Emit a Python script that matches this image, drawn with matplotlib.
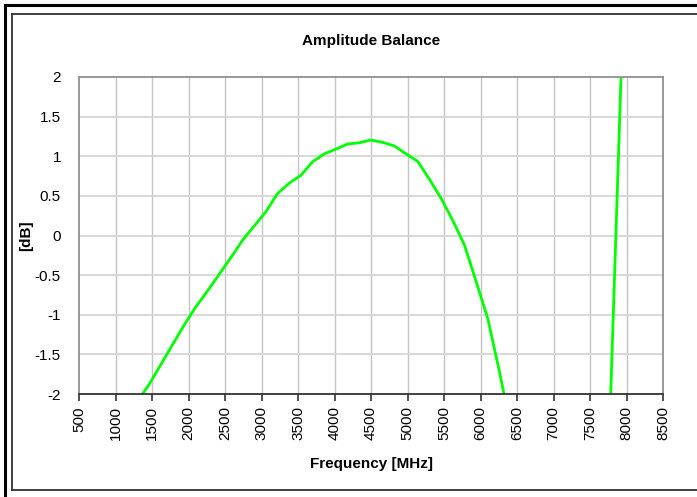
import numpy as np
import matplotlib.pyplot as plt
from matplotlib.lines import Line2D

plt.rcParams['font.family'] = ['Liberation Sans', 'DejaVu Sans']

# measured amplitude balance (points below -2 dB fall outside the plot)
freq_mhz = [1300, 1460, 1620, 1780, 1940, 2100, 2260, 2420, 2580, 2740,
            2900, 3060, 3220, 3380, 3540, 3700, 3860, 4020, 4180, 4340,
            4500, 4660, 4820, 4980, 5140, 5300, 5460, 5620, 5780, 5940,
            6100, 6260, 6420, 7700, 7860, 8020]
balance_db = [-2.09, -1.88, -1.63, -1.38, -1.13, -0.90, -0.70, -0.49, -0.28, -0.06,
              0.12, 0.30, 0.53, 0.66, 0.76, 0.93, 1.03, 1.09, 1.155, 1.17,
              1.205, 1.175, 1.13, 1.03, 0.935, 0.71, 0.47, 0.19, -0.12, -0.58,
              -1.05, -1.72, -2.45, -4.38, 0.16, 4.70]

x_ticks = np.arange(500, 8501, 500)
y_ticks = np.arange(-2, 2.01, 0.5)
y_labels = ['-2', '-1.5', '-1', '-0.5', '0', '0.5', '1', '1.5', '2']

W, H = 697, 497
fig = plt.figure(figsize=(W / 100, H / 100), dpi=100)

# chart frame
def fline(x0, y0, x1, y1, **kw):
    fig.add_artist(Line2D([x0 / W, x1 / W], [1 - y0 / H, 1 - y1 / H],
                          transform=fig.transFigure, **kw))

fline(5, 5, W + 2, 5, color='black', lw=2.2)
fline(5, 5, 5, H + 2, color='black', lw=2.2)
fline(11.5, 13.5, W + 2, 13.5, color='#333333', lw=1.3)
fline(11.5, 13.5, 11.5, 490, color='#333333', lw=1.3)
fline(11.5, 490, W + 2, 490, color='#333333', lw=1.3)

ax = fig.add_axes([79 / W, 1 - 394 / H, (663 - 79) / W, (394 - 77) / H])

ax.plot(freq_mhz, balance_db, color='#00ff00', lw=2.0, solid_joinstyle='miter')

ax.set_xlim(500, 8500)
ax.set_ylim(-2, 2)
ax.set_xticks(x_ticks)
ax.set_xticklabels([str(v) for v in x_ticks], rotation=90, fontsize=11)
ax.set_yticks(y_ticks)
ax.set_yticklabels(y_labels, fontsize=11)

for x in x_ticks[1:-1]:
    ax.axvline(x, color='#c4c4c4', lw=1.0, zorder=0)
for y in y_ticks[1:-1]:
    ax.axhline(y, color='#d6d6d6', lw=1.3, zorder=0)

for side in ['left', 'top', 'right']:
    ax.spines[side].set_color('#909090')
    ax.spines[side].set_linewidth(1.3)
ax.spines['bottom'].set_color('#333333')
ax.spines['bottom'].set_linewidth(1.3)

ax.tick_params(axis='x', direction='out', length=5, width=1.2, color='#333333', pad=4)
ax.tick_params(axis='y', length=0, pad=13)

ax.set_title('Amplitude Balance', fontsize=11, fontweight='bold', pad=23)
ax.set_xlabel('Frequency [MHz]', fontsize=11, fontweight='bold', labelpad=12)
ax.set_ylabel('[dB]', fontsize=11, fontweight='bold')
ax.yaxis.set_label_coords((33 - 79) / 584, 0.5)

fig.savefig('out.png', dpi=100)
